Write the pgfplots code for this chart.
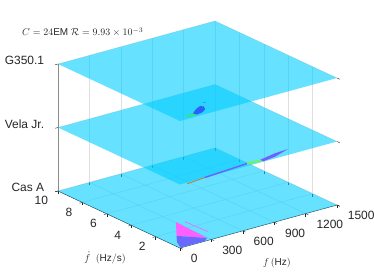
\documentclass[border=0pt]{standalone}
\usepackage{amsmath}
\usepackage{fontspec}
\setmainfont{Liberation Sans}
\usepackage{pgfplots}
\pgfplotsset{compat=1.18}
\usetikzlibrary{calc}
\definecolor{plane}{RGB}{0,205,255}
\definecolor{tk}{RGB}{38,38,38}
\definecolor{pinkw}{RGB}{255,95,255}
\definecolor{bluew}{RGB}{105,105,255}
\definecolor{violet2}{RGB}{110,95,255}
\definecolor{green2}{RGB}{110,240,110}
\definecolor{blob}{RGB}{45,95,250}
\definecolor{greenb}{RGB}{50,230,120}
\begin{document}
\begin{tikzpicture}
\begin{axis}[
  x={(0.10467bp,0.02867bp)}, y={(-12.2bp,5.7bp)}, z={(0bp,63.5bp)},
  xmin=0,xmax=1500,ymin=0,ymax=10,zmin=0,zmax=2,
  clip=false,
  axis line style={draw=none},
  grid=major,
  grid style={draw=black!13,line width=0.5bp},
  xtick={0,300,600,900,1200,1500},
  ytick={2,4,6,8,10},
  ztick={0,1,2},
  zticklabels={Cas A\hspace{10pt},Vela Jr.,G350.1\hspace{7pt}},
  tickpos=left,
  tick align=outside,
  major tick length=3bp,
  tick style={draw=tk,line width=0.4bp},
  /pgf/number format/assume math mode=true,
  /pgf/number format/1000 sep={},
  ticklabel style={font=\fontsize{12}{14}\selectfont,text=tk},
  xticklabel style={anchor=north west,inner sep=0pt,xshift=8bp,yshift=-5bp},
  yticklabel style={anchor=east,inner sep=0pt,xshift=-7bp,yshift=-9bp},
  zticklabel style={anchor=east,inner sep=0pt,xshift=-11bp,yshift=2bp},
]
% axis edges
\addplot3[draw=tk,line width=0.5bp] coordinates {(0,0,0)(1500,0,0)};
\addplot3[draw=tk,line width=0.5bp] coordinates {(0,0,0)(0,10,0)};
\addplot3[draw=black!45,line width=0.7bp] coordinates {(0,10,0)(0,10,2)};
% bottom plane: Cas A
\addplot3[fill=plane,draw=none,fill opacity=0.6] coordinates {(0,0,0)(1500,0,0)(1500,10,0)(0,10,0)} \closedcycle;
\addplot3[fill=pinkw,draw=none] coordinates {(311,3.0,0)(291,0.29,0)(143,1.39,0)(134,1.43,0)} -- cycle;
\addplot3[fill=bluew,draw=none] coordinates {(143,1.39,0)(291,0.29,0)(240,0.02,0)(10,0.05,0)(59,0.75,0)(134,1.43,0)} -- cycle;
\addplot3[draw=pinkw,line width=0.6bp] coordinates {(369,2.76,0)(379,0.95,0)};
% middle plane: Vela Jr.
\addplot3[fill=plane,draw=none,fill opacity=0.6] coordinates {(0,0,1)(1500,0,1)(1500,10,1)(0,10,1)} -- cycle;
\addplot3[draw=orange!70!black!80,line width=0.8bp] coordinates {(53,-0.14,1)(240,0.02,1)};
\addplot3[draw=violet2,line width=1.4bp] coordinates {(240,0.02,1)(674,0.29,1)};
\addplot3[fill=green2,draw=none] coordinates {(660,0.15,1)(690,0.45,1)(803,0.30,1)(803,0.05,1)} -- cycle;
\addplot3[fill=violet2,draw=none] coordinates {(803,0.05,1)(803,0.30,1)(974,0.575,1)(1108,0.65,1)(930,0.195,1)} -- cycle;
% top plane: G350.1
\addplot3[fill=plane,draw=none,fill opacity=0.6] coordinates {(0,0,2)(1500,0,2)(1500,10,2)(0,10,2)} -- cycle;
\addplot3[fill=greenb,draw=none] coordinates {(82,0.29,2)(144,0.42,2)(212,0.51,2)(186,0.20,2)(124,0.16,2)} -- cycle;
\addplot3[fill=blob,draw=none] coordinates {(175,0.44,2)(251,0.84,2)(314,1.05,2)(331,0.88,2)(299,0.51,2)(242,0.27,2)(186,0.20,2)} -- cycle;
\addplot3[draw=blob!80,line width=0.6bp] coordinates {(378,1.38,2)(392,1.24,2)};
\coordinate (O) at (axis cs:0,0,0);
\end{axis}
\node[anchor=west,inner sep=0pt,text=tk,font=\fontsize{10}{12}\selectfont] at ($(O)+(-158bp,216bp)$) {$C=24\mathrm{EM}\ \mathcal{R}=9.93\times10^{-3}$};
\node[inner sep=0pt,text=tk,font=\fontsize{10}{12}\selectfont] at ($(O)+(-75bp,-10bp)$) {$\dot{f}\ \ (\mathrm{Hz/s})$};
\node[inner sep=0pt,text=tk,font=\fontsize{10}{12}\selectfont] at ($(O)+(97bp,-15bp)$) {$f\,(\mathrm{Hz})$};
\pgfresetboundingbox
\path[use as bounding box] ($(O)+(-180bp,-32bp)$) rectangle ($(O)+(194bp,248bp)$);
\end{tikzpicture}
\end{document}
